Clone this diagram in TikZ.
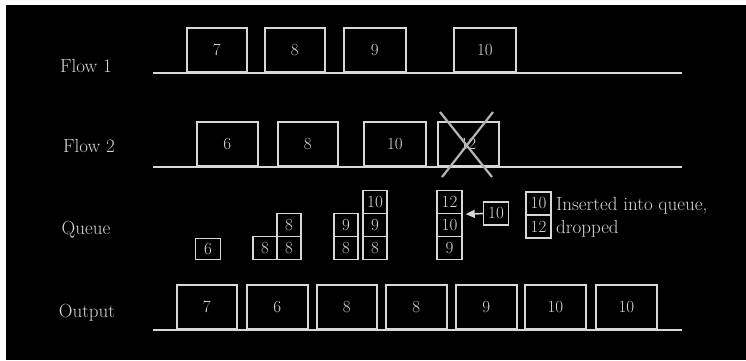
\documentclass[tikz,border=0pt]{standalone}
\usepackage{fontspec}
\setmainfont{Latin Modern Roman}
\usetikzlibrary{arrows.meta}
\definecolor{ln}{RGB}{215,215,215}
\definecolor{xg}{RGB}{180,180,180}
\begin{document}
\begin{tikzpicture}[x=1pt,y=-1pt,
  lbl/.style={text=ln,font=\fontsize{19}{22}\selectfont,anchor=base,inner sep=0},
  bigbox/.style={draw=ln,line width=1.7pt,minimum height=44pt,inner sep=0,anchor=south west,text=ln,font=\fontsize{17}{20}\selectfont},
  qbox/.style={draw=ln,line width=1.5pt,minimum width=24pt,minimum height=23pt,inner sep=0,text=ln,font=\fontsize{17}{19}\selectfont},
  base/.style={draw=ln,line width=1.7pt},
  txt/.style={text=ln,font=\fontsize{19}{22}\selectfont,anchor=base west,inner sep=0}]
\useasboundingbox (0,0) rectangle (746,360);
\fill[white] (0,0) rectangle (746,360);
\fill[black] (6,5) rectangle (746,360);
% labels
\node[lbl] (lf1) at (86,72) {Flow 1};
\node[lbl] (lf2) at (89,152) {Flow 2};
\node[lbl] (lq) at (86,234) {Queue};
\node[lbl] (lo) at (87,317) {Output};
% baselines
\coordinate (f1a) at (153,73); \coordinate (f1b) at (682,73);
\coordinate (f2a) at (153,167); \coordinate (f2b) at (682,167);
\coordinate (oa) at (153,330); \coordinate (ob) at (682,330);
\draw[base] (f1a) -- (f1b);
\draw[base] (f2a) -- (f2b);
\draw[base] (oa) -- (ob);
% flow 1
\node[bigbox,minimum width=60pt] (a1) at (186,73) {7};
\node[bigbox,minimum width=60pt] (a2) at (264,73) {8};
\node[bigbox,minimum width=62pt] (a3) at (343,73) {9};
\node[bigbox,minimum width=62pt] (a4) at (453,73) {10};
% flow 2
\node[bigbox,minimum width=61pt] (b1) at (196,167) {6};
\node[bigbox,minimum width=60pt] (b2) at (277,167) {8};
\node[bigbox,minimum width=62pt] (b3) at (363,167) {10};
\node[bigbox,minimum width=61pt] (b4) at (437,167) {12};
\coordinate (x1) at (440,112); \coordinate (x2) at (492,177);
\coordinate (x3) at (493,112); \coordinate (x4) at (442,177);
\draw[xg,line width=2.2pt] (x1) -- (x2);
\draw[xg,line width=2.2pt] (x3) -- (x4);
% output
\node[bigbox,minimum width=60pt] (o1) at (176,330) {7};
\node[bigbox,minimum width=61pt] (o2) at (246,330) {6};
\node[bigbox,minimum width=60pt] (o3) at (316,330) {8};
\node[bigbox,minimum width=61pt] (o4) at (385,330) {8};
\node[bigbox,minimum width=61pt] (o5) at (455,330) {9};
\node[bigbox,minimum width=61pt] (o6) at (524,330) {10};
\node[bigbox,minimum width=61pt] (o7) at (595,330) {10};
% queue
\node[qbox,minimum width=25pt,minimum height=21pt] (q1) at (208,249) {6};
\node[qbox] (q2a) at (265,248) {8};
\node[qbox] (q2b) at (289,248) {8};
\node[qbox] (q2c) at (289,225) {8};
\node[qbox] (q3a) at (346,248) {8};
\node[qbox] (q3b) at (346,225) {9};
\node[qbox] (q3c) at (375,248) {8};
\node[qbox] (q3d) at (375,225) {9};
\node[qbox] (q3e) at (375,202) {10};
\node[qbox,minimum width=25pt] (q4a) at (449.5,248) {9};
\node[qbox,minimum width=25pt] (q4b) at (449.5,225) {10};
\node[qbox,minimum width=25pt] (q4c) at (449.5,202) {12};
\node[qbox,minimum width=25pt] (ins) at (496,213.5) {10};
\draw[ln,line width=1.7pt,-{Triangle[length=9pt,width=8pt]},shorten >=3pt] (ins.west) -- (q4c.south east);
% legend
\node[qbox,minimum width=25pt] (k1) at (538.5,203.5) {10};
\node[qbox,minimum width=25pt] (k2) at (538.5,226.5) {12};
\node[txt] (t1) at (556,210) {Inserted into queue,};
\node[txt] (t2) at (556,233) {dropped};
\end{tikzpicture}
\end{document}
